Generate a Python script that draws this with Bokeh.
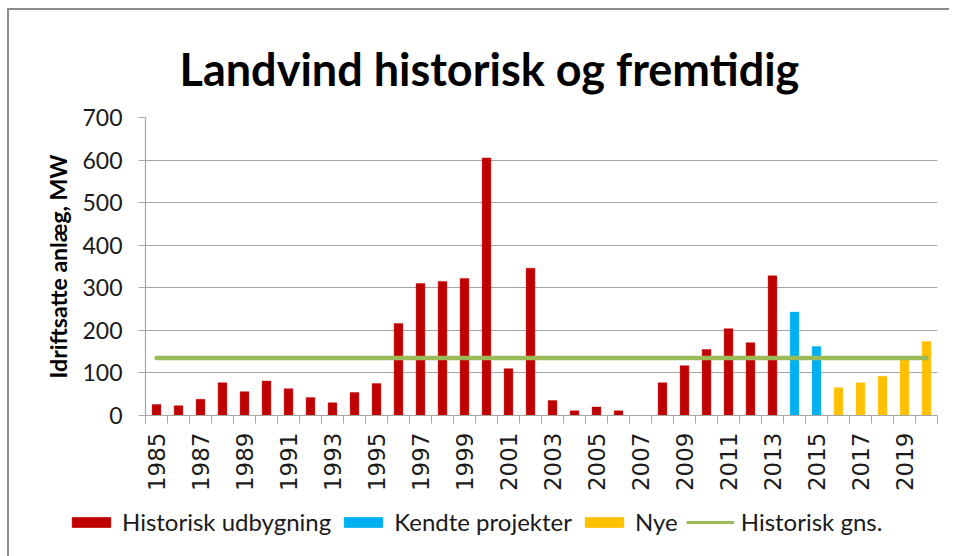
import math
from bokeh.plotting import figure
from bokeh.layouts import column
from bokeh.models import Range1d, FixedTicker, Legend, LegendItem
from bokeh.embed import file_html
from bokeh.resources import INLINE

title_text = "Landvind historisk og fremtidig"
y_label = "Idriftsatte anlæg, MW"

hist_years = list(range(1985, 2014))
hist_values = [26, 23, 38, 77, 56, 81, 63, 42, 30, 54,
               75, 216, 310, 315, 322, 605, 110, 346, 35, 11,
               20, 11, 0, 77, 117, 155, 204, 171, 328]
known_years = [2014, 2015]
known_values = [243, 162]
new_years = [2016, 2017, 2018, 2019, 2020]
new_values = [65, 77, 92, 133, 174]
avg_value = 135
all_years = list(range(1985, 2021))
y_ticks = [0, 100, 200, 300, 400, 500, 600, 700]
x_label_years = list(range(1985, 2021, 2))
legend_labels = ["Historisk udbygning", "Kendte projekter", "Nye", "Historisk gns."]

RED = "#C00000"
BLUE = "#00B0F0"
YELLOW = "#FFC000"
GREEN = "#9BBB59"
GRID = "#A6A6A6"
TXT = "#1a1a1a"

p = figure(frame_width=792, frame_height=298, output_backend="svg", toolbar_location=None,
           x_range=Range1d(all_years[0] - 0.5, all_years[-1] + 0.5),
           y_range=Range1d(0, 700),
           min_border_left=136, min_border_right=12, min_border_top=107, min_border_bottom=85)
p.outline_line_color = None
p.background_fill_color = "white"

p.title.text = title_text
p.title.text_font = "Lato"
p.title.text_font_style = "bold"
p.title.text_font_size = "45px"
p.title.text_line_height = 0.85
p.title.align = "left"
p.title.offset = 34
p.title.text_color = "black"
p.title.standoff = 44

w = 0.4
p.vbar(x=hist_years, top=hist_values, width=w, bottom=0, fill_color=RED, line_color=RED, line_alpha=0.4)
p.vbar(x=known_years, top=known_values, width=w, bottom=0, fill_color=BLUE, line_color=BLUE, line_alpha=0.4)
p.vbar(x=new_years, top=new_values, width=w, bottom=0, fill_color=YELLOW, line_color=YELLOW, line_alpha=0.4)
p.line(x=[all_years[0], all_years[-1]], y=[avg_value, avg_value], line_color=GREEN, line_width=4.5, line_cap="round")

p.xgrid.visible = False
p.ygrid.grid_line_color = GRID
p.ygrid.grid_line_width = 1.2
p.ygrid.ticker = FixedTicker(ticks=y_ticks)

xa = p.xaxis[0]
xa.ticker = FixedTicker(ticks=x_label_years, minor_ticks=[y - 0.5 for y in all_years] + [all_years[-1] + 0.5])
xa.major_tick_in = 0
xa.major_tick_out = 0
xa.minor_tick_in = 0
xa.minor_tick_out = 8
xa.minor_tick_line_color = GRID
xa.axis_line_color = GRID
xa.axis_line_width = 1.2
xa.major_label_orientation = math.pi / 2
xa.major_label_text_font = "DejaVu Sans"
xa.major_label_text_font_size = "23px"
xa.major_label_text_color = TXT
xa.major_label_standoff = 9

ya = p.yaxis[0]
ya.ticker = FixedTicker(ticks=y_ticks)
ya.major_tick_in = 0
ya.major_tick_out = 7
ya.minor_tick_out = 0
ya.minor_tick_in = 0
ya.major_tick_line_color = GRID
ya.axis_line_color = GRID
ya.axis_line_width = 1.2
ya.major_label_text_font = "Lato"
ya.major_label_text_font_size = "23px"
ya.major_label_text_color = TXT
ya.major_label_standoff = 16
ya.axis_label = y_label
ya.axis_label_text_font = "Lato"
ya.axis_label_text_font_style = "bold"
ya.axis_label_text_font_size = "23px"
ya.axis_label_text_color = "black"
ya.axis_label_standoff = 7

# legend strip below the chart (its renderers lie outside its empty range)
q = figure(width=940, height=56, output_backend="svg", toolbar_location=None,
           x_axis_type=None, y_axis_type=None, min_border=0,
           x_range=Range1d(0, 1), y_range=Range1d(0, 1))
q.outline_line_color = None
q.xgrid.visible = False
q.ygrid.visible = False
for fig in (p, q):
    try:
        fig.frame_align = False
    except AttributeError:
        pass
lr1 = q.vbar(x=hist_years, top=hist_values, width=0.1, fill_color=RED, line_color=RED)
lr2 = q.vbar(x=known_years, top=known_values, width=0.1, fill_color=BLUE, line_color=BLUE)
lr3 = q.vbar(x=new_years, top=new_values, width=0.1, fill_color=YELLOW, line_color=YELLOW)
lr4 = q.line(x=[all_years[0], all_years[-1]], y=[avg_value, avg_value], line_color=GREEN, line_width=3)

legend = Legend(items=[
    LegendItem(label=legend_labels[0], renderers=[lr1]),
    LegendItem(label=legend_labels[1], renderers=[lr2]),
    LegendItem(label=legend_labels[2], renderers=[lr3]),
    LegendItem(label=legend_labels[3], renderers=[lr4]),
], orientation="horizontal", location=(58, 20))
legend.glyph_width = 48
legend.glyph_height = 12
legend.label_text_font = "Lato"
legend.label_text_font_size = "24px"
legend.label_text_color = TXT
legend.label_standoff = 7
legend.spacing = 8
legend.border_line_color = None
legend.background_fill_alpha = 0
legend.margin = 0
legend.padding = 0
q.add_layout(legend)

layout = column(p, q, spacing=0)
layout.styles = {"border-left": "2px solid #8c8c8c", "border-top": "2px solid #8c8c8c",
                 "margin-left": "7px", "margin-top": "8px"}

open("out.html", "w").write(file_html(layout, INLINE))
